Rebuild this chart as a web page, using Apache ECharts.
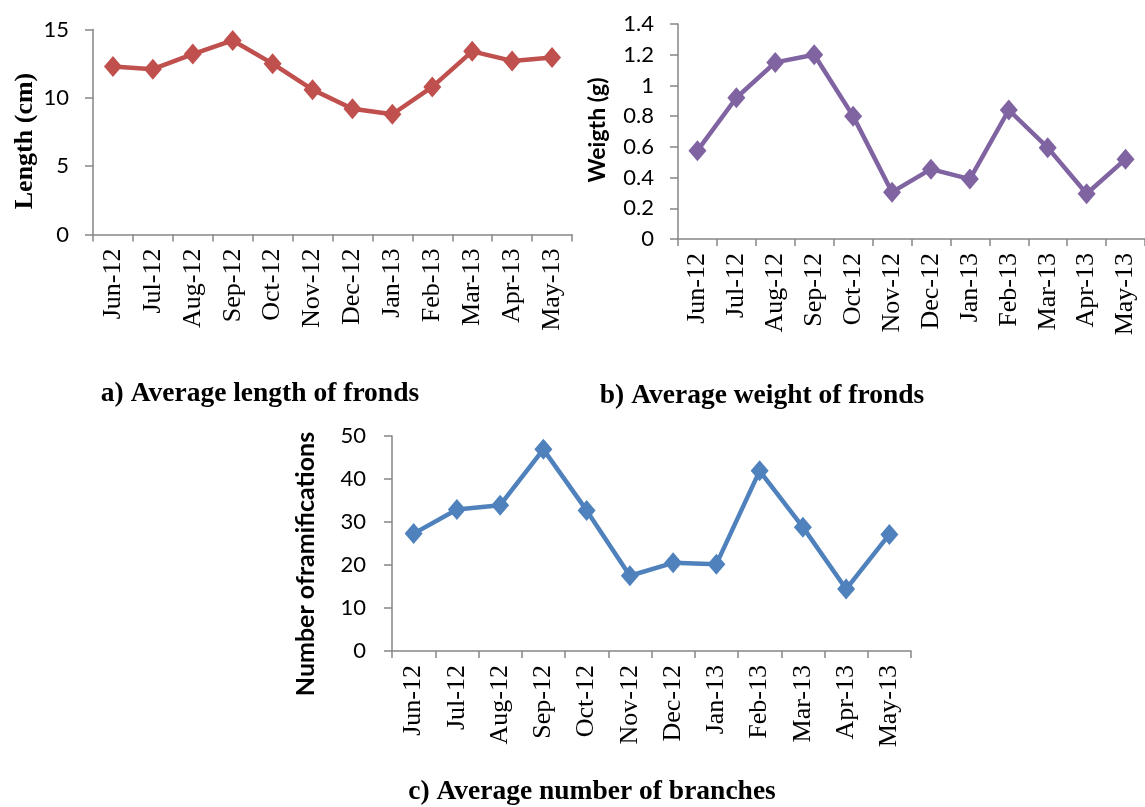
<!DOCTYPE html>
<html>
<head>
<meta charset="utf-8">
<script src="https://cdn.jsdelivr.net/npm/echarts@6/dist/echarts.min.js"></script>
<style>
  html, body { margin: 0; padding: 0; background: #fff; }
  #chart { width: 1145px; height: 807px; }
</style>
</head>
<body>
<div id="chart"></div>
<script>
// Monthly sampling dates
const months = ['Jun-12', 'Jul-12', 'Aug-12', 'Sep-12', 'Oct-12', 'Nov-12',
                'Dec-12', 'Jan-13', 'Feb-13', 'Mar-13', 'Apr-13', 'May-13'];

// a) Average length of fronds (cm)
const frondLength = [12.3, 12.1, 13.2, 14.2, 12.5, 10.6, 9.2, 8.8, 10.8, 13.4, 12.7, 12.95];
// b) Average weight of fronds (g)
const frondWeight = [0.575, 0.92, 1.15, 1.2, 0.8, 0.305, 0.455, 0.39, 0.84, 0.595, 0.295, 0.52];
// c) Average number of branches
const branchCount = [27.3, 32.9, 33.9, 46.9, 32.7, 17.5, 20.5, 20.2, 41.9, 28.8, 14.4, 27.1];

const axisGrey = '#868686';
const serif = '"Liberation Serif", "Times New Roman", serif';
const sans = 'Lato, "Noto Sans", sans-serif';

function catAxis(gridIndex) {
  return {
    type: 'category', gridIndex, data: months, boundaryGap: true,
    axisLine: { lineStyle: { color: axisGrey, width: 1.5 } },
    axisTick: { show: true, length: 7, lineStyle: { color: axisGrey, width: 1.5 } },
    axisLabel: { rotate: 90, margin: 14, color: '#000', fontFamily: serif, fontSize: 26 }
  };
}
function valAxis(gridIndex, max, interval, margin) {
  return {
    type: 'value', gridIndex, min: 0, max, interval,
    axisLine: { show: true, lineStyle: { color: axisGrey, width: 1.5 } },
    axisTick: { show: true, length: 8, lineStyle: { color: axisGrey, width: 1.5 } },
    splitLine: { show: false },
    axisLabel: { margin, color: '#000', fontFamily: sans, fontSize: 22 }
  };
}
function lineSeries(idx, data, color) {
  return {
    type: 'line', xAxisIndex: idx, yAxisIndex: idx, data,
    symbol: 'diamond', symbolSize: [18, 21],
    lineStyle: { color, width: 4.5 },
    itemStyle: { color },
    animation: false
  };
}
function vText(x, y, text, font) {
  return {
    type: 'text', x, y, rotation: Math.PI / 2,
    style: { text, font, fill: '#000', align: 'center', verticalAlign: 'middle' }
  };
}
function caption(x, y, text) {
  return {
    type: 'text', x, y,
    style: { text, font: 'bold 27.5px ' + serif, fill: '#000', align: 'center', verticalAlign: 'middle' }
  };
}

const chart = echarts.init(document.getElementById('chart'), null, { renderer: 'canvas' });
chart.setOption({
  backgroundColor: '#fff',
  animation: false,
  grid: [
    { left: 93, top: 29.5, width: 479, height: 205 },
    { left: 678, top: 24, width: 480, height: 215 },
    { left: 392, top: 436, width: 519, height: 215 }
  ],
  xAxis: [catAxis(0), catAxis(1), catAxis(2)],
  yAxis: [valAxis(0, 15, 5, 24), valAxis(1, 1.4, 0.2, 24), valAxis(2, 50, 10, 26)],
  series: [
    lineSeries(0, frondLength, '#C0504D'),
    lineSeries(1, frondWeight, '#8064A2'),
    lineSeries(2, branchCount, '#4F81BD')
  ],
  graphic: [
    vText(25, 141, 'Length (cm)', 'bold 26px ' + serif),
    vText(598, 130, 'Weigth (g)', 'bold 23px ' + sans),
    vText(306, 564, 'Number oframifications', 'bold 25px ' + sans),
    caption(260, 394, 'a) Average length of fronds'),
    caption(762, 396, 'b) Average weight of fronds'),
    caption(592, 792, 'c) Average number of branches')
  ]
});
</script>
</body>
</html>
